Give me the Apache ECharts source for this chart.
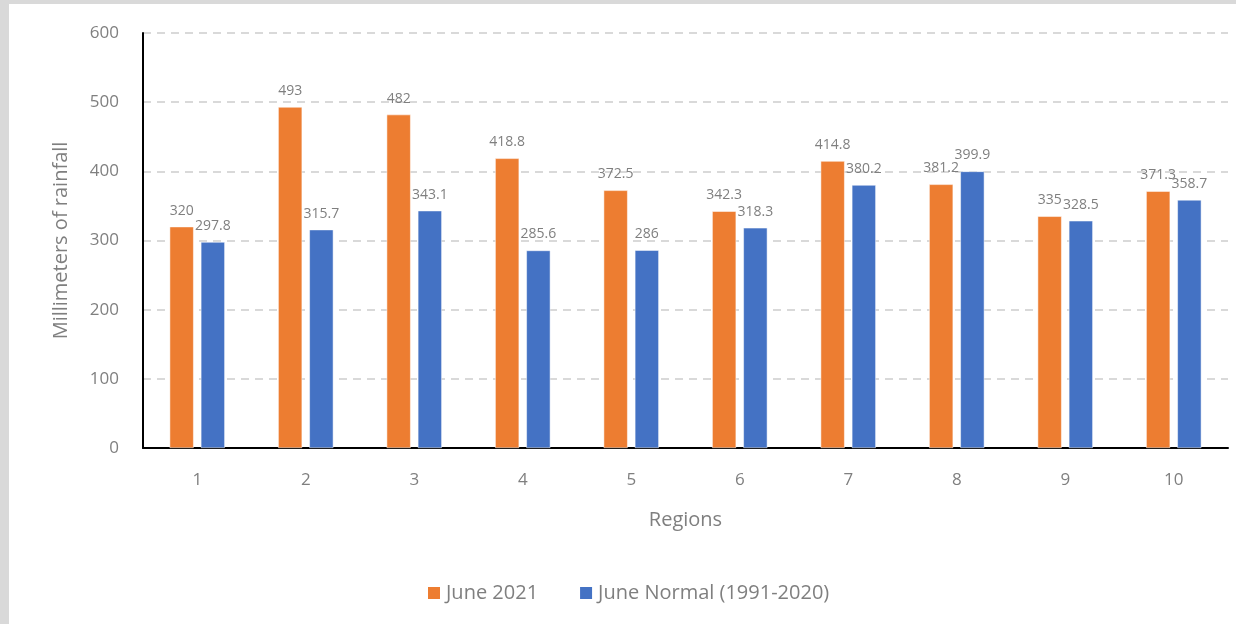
<!DOCTYPE html>
<html>
<head>
<meta charset="utf-8">
<script src="https://cdn.jsdelivr.net/npm/echarts@6/dist/echarts.min.js"></script>
<style>
  html, body { margin: 0; padding: 0; background: #d9d9d9; width: 1236px; height: 624px; overflow: hidden; }
  #chart { position: absolute; left: 9px; top: 4px; width: 1227px; height: 620px; background: #fff; }
</style>
</head>
<body>
<div id="chart"></div>
<script>
// regions and rainfall values (mm)
var regions = ["1", "2", "3", "4", "5", "6", "7", "8", "9", "10"];
var june2021 = [320, 493, 482, 418.8, 372.5, 342.3, 414.8, 381.2, 335, 371.3];
var juneNormal = [297.8, 315.7, 343.1, 285.6, 286, 318.3, 380.2, 399.9, 328.5, 358.7];
var seriesNames = ["June 2021", "June Normal (1991-2020)"];

var textColor = "#7f7f7f";
var font = "Open Sans";

var myChart = echarts.init(document.getElementById("chart"));
myChart.setOption({
  animation: false,
  textStyle: { fontFamily: font },
  grid: { left: 134, right: 8, top: 29, bottom: 176 },
  legend: {
    data: seriesNames,
    top: 574,
    left: 412,
    itemWidth: 14,
    itemHeight: 14,
    itemGap: 40,
    icon: "rect",
    textStyle: { color: textColor, fontSize: 20, fontFamily: font }
  },
  xAxis: {
    type: "category",
    data: regions,
    name: "Regions",
    nameLocation: "middle",
    nameGap: 62,
    nameTextStyle: { color: textColor, fontSize: 20 },
    axisLine: { lineStyle: { color: "#000", width: 2 } },
    axisTick: { show: false },
    axisLabel: { color: textColor, fontSize: 17, margin: 24 }
  },
  yAxis: {
    type: "value",
    min: 0,
    max: 600,
    interval: 100,
    name: "Millimeters of rainfall",
    nameLocation: "middle",
    nameGap: 72,
    nameTextStyle: { color: textColor, fontSize: 20 },
    axisLine: { show: true, lineStyle: { color: "#000", width: 2 } },
    axisLabel: { color: textColor, fontSize: 17, margin: 24 },
    splitLine: { lineStyle: { color: "#d9d9d9", type: [8, 6], width: 2 } }
  },
  series: [
    {
      name: seriesNames[0],
      type: "bar",
      data: june2021,
      barWidth: 24,
      barGap: "30%",
      itemStyle: { color: "#ED7D31", borderColor: "#fff", borderWidth: 0.5 },
      label: { show: true, position: "top", distance: 9, color: textColor, fontSize: 14 }
    },
    {
      name: seriesNames[1],
      type: "bar",
      data: juneNormal,
      barWidth: 24,
      barGap: "30%",
      itemStyle: { color: "#4472C4", borderColor: "#fff", borderWidth: 0.5 },
      label: { show: true, position: "top", distance: 9, color: textColor, fontSize: 14 }
    }
  ]
});
</script>
</body>
</html>
